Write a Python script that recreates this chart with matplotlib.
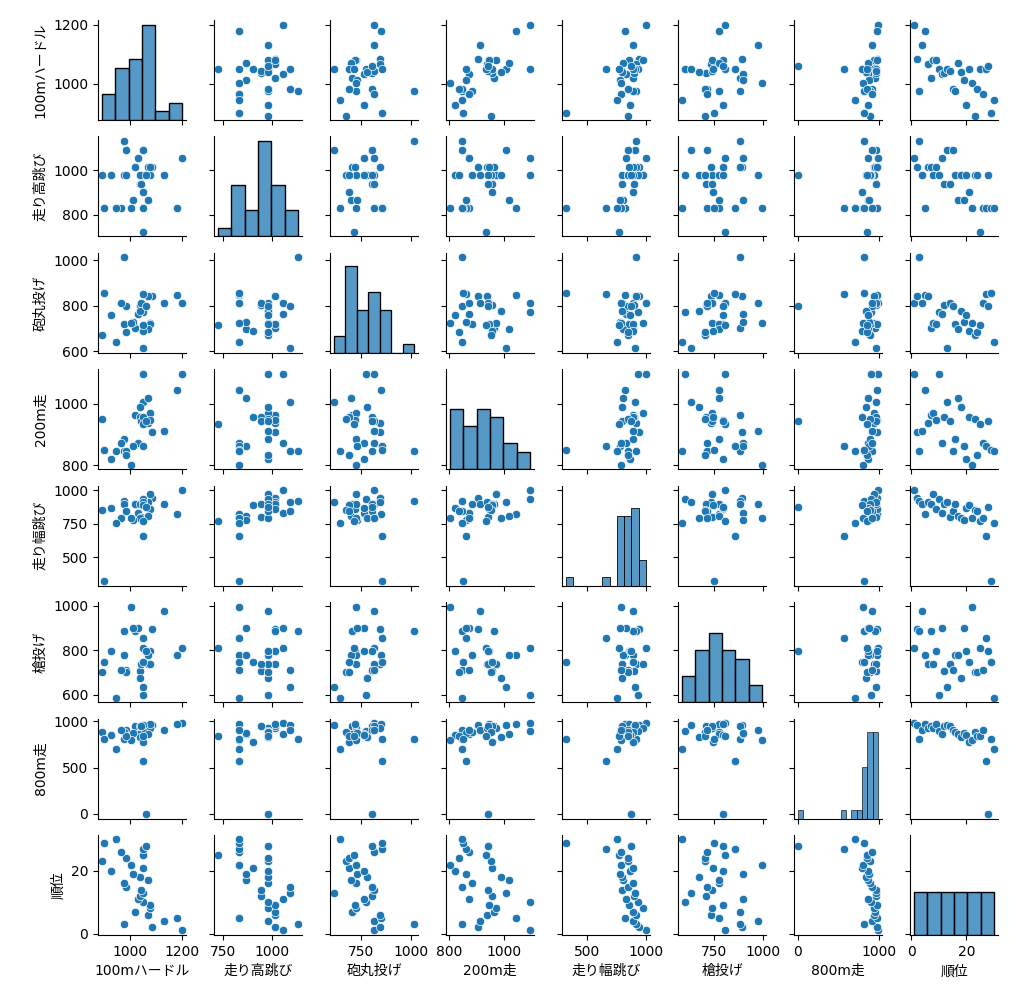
import numpy as np
import pandas as pd
import matplotlib
matplotlib.use("Agg")
import matplotlib.pyplot as plt
import seaborn as sns

# heptathlon scores, one entry per athlete, ordered by final rank
rank = list(range(1, 31))
hurdles_100m = [1200, 1085, 977, 1130, 1180, 1068, 1021, 1079, 1079, 1051,
                1033, 1038, 1051, 1042, 984, 977, 1071, 1040, 1013, 928,
                1050, 1004, 893, 984, 1050, 966, 1050, 1061, 900, 945]
high_jump = [1054, 1016, 1132, 978, 830, 1016, 1016, 978, 1016, 978,
             1054, 941, 1093, 941, 1093, 978, 867, 978, 867, 978,
             903, 830, 978, 978, 724, 830, 830, 978, 830, 830]
shot_put = [812, 843, 1013, 812, 846, 843, 704, 725, 718, 773,
            764, 803, 613, 812, 801, 721, 699, 776, 729, 761,
            689, 725, 672, 686, 714, 812, 852, 801, 855, 642]
run_200m = [1097, 907, 847, 911, 1046, 937, 963, 971, 947, 1097,
            874, 958, 1007, 944, 847, 884, 1019, 989, 862, 821,
            958, 802, 952, 834, 934, 871, 862, 944, 851, 847]
long_jump = [1000, 942, 919, 894, 825, 914, 894, 975, 857, 935,
             833, 901, 909, 798, 847, 894, 808, 796, 778, 869,
             887, 791, 850, 847, 773, 791, 660, 872, 323, 758]
javelin = [810, 896, 885, 979, 779, 737, 885, 740, 795, 600,
           899, 709, 633, 740, 713, 779, 779, 675, 899, 795,
           746, 997, 704, 704, 810, 713, 857, 797, 749, 587]
run_800m = [982, 964, 814, 910, 975, 929, 946, 929, 975, 893,
            864, 954, 957, 954, 910, 889, 864, 829, 875, 855,
            780, 796, 882, 846, 846, 910, 571, 0, 814, 704]

COLUMNS = ["100mハードル", "走り高跳び", "砲丸投げ", "200m走",
           "走り幅跳び", "槍投げ", "800m走", "順位"]

df = pd.DataFrame({
    COLUMNS[0]: hurdles_100m,
    COLUMNS[1]: high_jump,
    COLUMNS[2]: shot_put,
    COLUMNS[3]: run_200m,
    COLUMNS[4]: long_jump,
    COLUMNS[5]: javelin,
    COLUMNS[6]: run_800m,
    COLUMNS[7]: rank,
})


def hist_classic_auto(x, hue=None, **kwargs):
    """histplot with the older numpy 'auto' rule: min(Freedman-Diaconis, Sturges)."""
    values = np.asarray(x, dtype=float)
    lo, hi = values.min(), values.max()
    q75, q25 = np.percentile(values, [75, 25])
    fd_width = 2.0 * (q75 - q25) * values.size ** (-1.0 / 3.0)
    sturges_width = (hi - lo) / (np.log2(values.size) + 1.0)
    width = min(fd_width, sturges_width) if fd_width else sturges_width
    n_bins = int(np.ceil((hi - lo) / width))
    sns.histplot(x=x, hue=hue, bins=n_bins, binrange=(lo, hi), ax=plt.gca(), **kwargs)


plt.rcParams["font.family"] = ["DejaVu Sans", "Noto Sans CJK JP"]

g = sns.PairGrid(df, height=1.24)
g.map_offdiag(sns.scatterplot)
g.map_diag(hist_classic_auto)
fig = g.figure
fig.set_size_inches(10.28, 9.92)
fig.subplots_adjust(left=0.0953, right=0.9708, top=0.9798, bottom=0.0575,
                    wspace=0.318, hspace=0.164)

fig.savefig("out.png", dpi=100)
